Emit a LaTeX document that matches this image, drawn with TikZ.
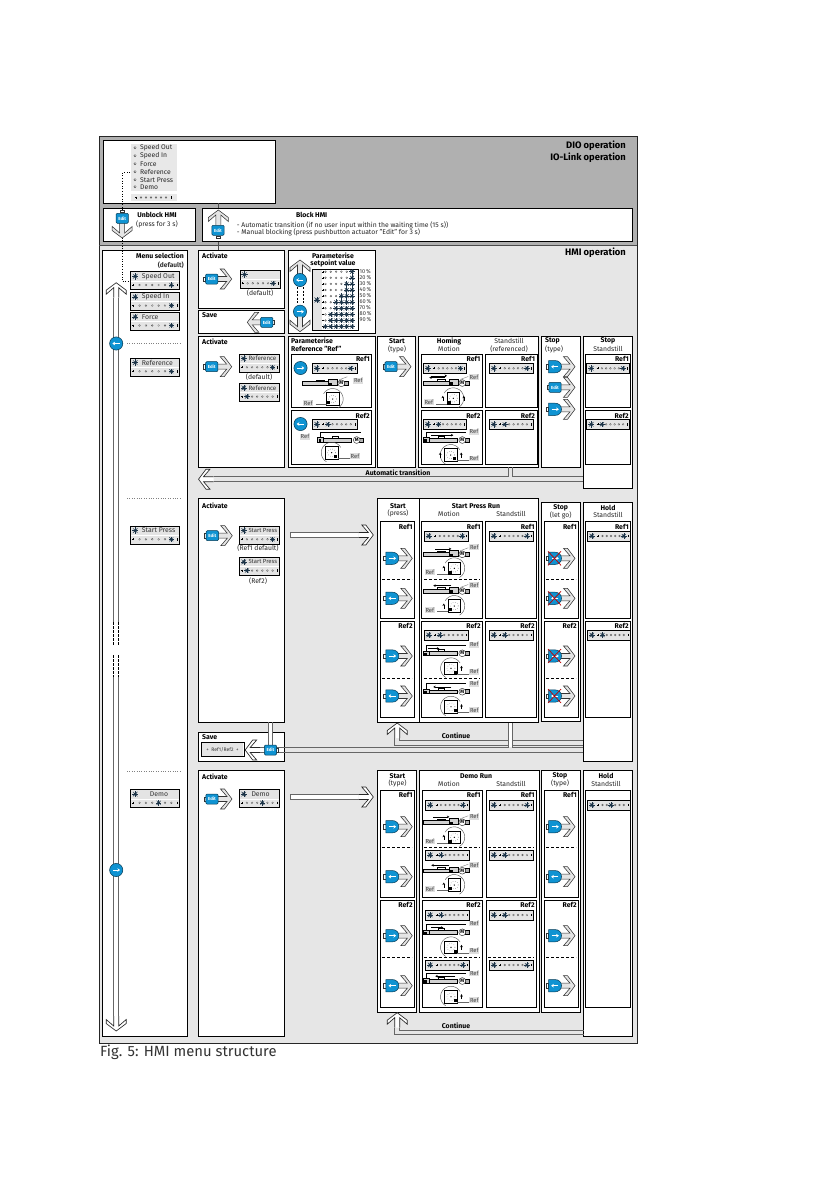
\documentclass[tikz,border=0pt]{standalone}
\usepackage{fontspec}
\setmainfont{Fira Sans}
\usetikzlibrary{arrows.meta}
\definecolor{dkbg}{HTML}{B0B0B0}
\definecolor{ltbg}{HTML}{E6E6E6}
\definecolor{dispbg}{HTML}{E4E4E4}
\definecolor{btnblue}{HTML}{0F93D2}
\definecolor{sunc}{HTML}{1C3448}
\newcounter{nc}
\tikzset{
 x=1pt,y=-1pt,
 boxs/.style={draw=black,fill=white,line width=.9pt},
 tb/.style={inner sep=0pt,font=\fontsize{6.9}{7}\selectfont\bfseries},
 tr/.style={inner sep=0pt,font=\fontsize{6.8}{7}\selectfont,text=black!85},
 tbl/.style={tb,anchor=west},
 tbr/.style={tb,anchor=east},
 trl/.style={tr,anchor=west},
 bighead/.style={inner sep=0pt,anchor=east,font=\fontsize{9.4}{10}\selectfont\bfseries},
 figcap/.style={inner sep=0pt,anchor=west,text=black!80,font=\fontsize{14.8}{16}\selectfont},
 reft/.style={inner sep=.6pt,fill=black!13,text=black!75,font=\fontsize{5.8}{6}\selectfont},
 disptx/.style={inner sep=0pt,anchor=west,text=black!80,font=\fontsize{6.9}{7}\selectfont},
 chevg/.style={draw=black!80,fill=black!10,line width=.55pt},
 chevw/.style={draw=black!85,fill=white,line width=.65pt},
 btnfill/.style={fill=btnblue,draw=black!60!btnblue,line width=.5pt},
 shaft/.style={draw=black!60,line width=.9pt},
 dashtwo/.style={draw=black,line width=.8pt,dash pattern=on 3pt off 2pt},
}
\newcommand\tx[4]{\stepcounter{nc}\node[#1] (t\thenc) at (#2,#3) {#4};}
\newcommand\bx[4]{\draw[boxs] (#1,#2) rectangle (#3,#4);}
\newcommand\reft[2]{\tx{reft}{#1}{#2}{Ref}}
\newcommand\sunn[3]{\foreach \a in {0,45,...,315}{\draw[sunc,line width=.45pt] (#1,#2) -- ++(\a:#3);}\fill[sunc] (#1,#2) circle ({.55*#3});}
\newcommand\drow[4]{%
 \draw[black,line width=.35pt] (#1-1,#3) -- (#1+1,#3) (#1,#3-1) -- (#1,#3+1);
 \draw[black,line width=.45pt] (#2,#3-1.2) -- (#2,#3+1.2);
 \foreach \k in {1,...,6}{\pgfmathsetmacro\xx{(#1)+((#2)-(#1))*\k/7}
  \ifnum\k=#4\relax\sunn{\xx}{#3}{2.8}\else\draw[black!70,line width=.3pt,fill=white] (\xx,#3) circle (.9);\fi}}
\newcommand\dispone[4]{\draw[draw=black,fill=dispbg,line width=.8pt] (#1,#2) rectangle (#3,#2+10);
 \sunn{#1+4.5}{#2+5}{3.2}\drow{#1+11}{#3-2}{#2+5}{#4}}
\newcommand\disptwo[5]{\draw[draw=black,fill=dispbg,line width=.8pt] (#1,#2) rectangle (#3,#2+18);
 \fill[white] (#1+.5,#2+9) rectangle (#3-.5,#2+9.6);
 \sunn{#1+4.5}{#2+4.6}{3.2}\drow{#1+2.5}{#3-2}{#2+13.3}{#5}
 \tx{disptx}{#1+9}{#2+4.6}{#4}}
\newcommand\chev[4][chevg]{\begin{scope}[shift={(#2,#3)},rotate=#4]
 \path[#1,draw=none] (0,0)--(-7.5,-10)--(-11.5,-10)--(-5,-2.5)--(-15,-2.5)--(-15,2.5)--(-5,2.5)--(-11.5,10)--(-7.5,10)--cycle;
 \draw[#1,fill=none,line join=miter] (-15,-2.5)--(-5,-2.5)--(-11.5,-10)--(-7.5,-10)--(0,0)--(-7.5,10)--(-11.5,10)--(-5,2.5)--(-15,2.5);\end{scope}}
\newcommand\btnE[3]{\begin{scope}[shift={(#1,#2)},rotate=#3]
 \draw[draw=black!80,fill=white,line width=.5pt] (-8,-2.2) rectangle (-6,2.2);\end{scope}
 \draw[btnfill,rounded corners=1.2pt] (#1-6.2,#2-5) rectangle (#1+6.2,#2+5);
 \tx{inner sep=0pt,text=white,font=\fontsize{4.4}{5}\selectfont\bfseries}{#1}{#2}{Edit}}
\newcommand\btnA[3]{\draw[draw=black!80,fill=white,line width=.5pt] (#1-8.6,#2-2.2) rectangle (#1-6.5,#2+2.2);
 \draw[btnfill] (#1-6.5,#2-6.2) -- (#1-.5,#2-6.2) .. controls (#1+4,#2-6.2) and (#1+6.5,#2-3.5) .. (#1+6.5,#2) .. controls (#1+6.5,#2+3.5) and (#1+4,#2+6.2) .. (#1-.5,#2+6.2) -- (#1-6.5,#2+6.2) -- cycle;
 \draw[white,line width=.9pt,-{Stealth[length=2.6pt,width=3.6pt]}] (#1-3.4*#3,#2) -- (#1+3.8*#3,#2);}
\newcommand\btnC[3]{\draw[btnfill] (#1,#2) circle (6.6);
 \draw[white,line width=.9pt,-{Stealth[length=2.6pt,width=3.6pt]}] (#1-3.4*#3,#2) -- (#1+3.8*#3,#2);}
\newcommand\redx[2]{\draw[red!75!black,line width=.7pt] (#1-7,#2-7) -- (#1+6,#2+7) (#1-7,#2+7) -- (#1+6,#2-7);}
\newcommand\actA[3]{\chev{#1+20}{#2}{0}\btnA{#1}{#2}{#3}}
\newcommand\actE[2]{\chev{#1+20}{#2}{0}\btnE{#1}{#2}{0}}
\newcommand\motorpart[2]{\draw[fill=black!30,draw=black,line width=.5pt] (#1+42,#2-2) rectangle (#1+46,#2+2);
 \draw[fill=white,draw=black!80,line width=.45pt] (#1+39,#2) circle (3.4);
 \tx{inner sep=0pt,font=\fontsize{4.8}{5}\selectfont\bfseries}{#1+39}{#2}{M}}
\newcommand\axOne[4]{\draw[fill=black!18,draw=black,line width=.6pt] (#1,#2-1.8) rectangle (#1+32,#2+1.8);
 \draw[fill=black!18,draw=black,line width=.6pt] (#1+26,#2-3.6) rectangle (#1+35,#2+1.8);
 \fill[black] (#1+27,#2-.6) rectangle (#1+29.4,#2+1.5);
 \motorpart{#1}{#2}
 \draw[black,line width=.5pt] (#1+14,#2-1.8) -- (#1+14,#2-3.4) -- (#1+22,#2-3.4) -- (#1+22,#2-1.8);
 \ifnum#3=#4\relax\else\draw[black,line width=.45pt,-{Stealth[length=2.4pt,width=2.6pt]}] (#1+#3,#2-5.4) -- (#1+#4,#2-5.4);\fi
 \draw[black!50,line width=.4pt] (#1+37,#2-3.6) -- (#1+45,#2-6.5);}
\newcommand\axTwo[4]{\draw[fill=black!18,draw=black,line width=.6pt] (#1,#2-1.8) rectangle (#1+34,#2+1.8);
 \draw[fill=black!18,draw=black,line width=.6pt] (#1,#2-2.4) rectangle (#1+6,#2+2);
 \fill[black] (#1+1,#2-.6) rectangle (#1+3.4,#2+1.5);
 \motorpart{#1}{#2}
 \draw[black,line width=.5pt] (#1+3,#2-2.4) -- (#1+3,#2-8) -- (#1+43,#2-8);
 \draw[black,line width=.5pt] (#1+15,#2-1.8) -- (#1+15,#2-3.8) -- (#1+21,#2-3.8) -- (#1+21,#2-1.8);
 \ifnum#3=#4\relax\else\draw[black,line width=.45pt,-{Stealth[length=2.4pt,width=2.6pt]}] (#1+#3,#2-4.8) -- (#1+#4,#2-4.8);\fi}
\newcommand\rotbody[3]{\draw[fill=white,draw=black,line width=.7pt] (#1-6.2,#2-6.2) rectangle (#1+6.2,#2+6.2);
 \draw[black!80,line width=.4pt,dotted] (#1,#2) circle (4);
 \fill[black] (#1+#3*2.6,#2+2.4) rectangle (#1+#3*5.6,#2+5.4);
 \fill[black] (#1,#2) circle (.7);}
\newcommand\rotarc[4]{\draw[black!65,line width=.45pt] plot[domain=#3:#4,samples=14,smooth] ({#1+10.5*cos(\x)},{#2+10.5*sin(\x)});}
\newcommand\smallup[2]{\draw[black,line width=.6pt,-{Stealth[length=2.4pt,width=2.6pt]}] (#1,#2+2.5) -- (#1,#2-2.5);}
\newcommand\rotOne[3]{\rotarc{#1}{#2}{-150}{60}\rotbody{#1}{#2}{-1}
 \draw[black!60,line width=.4pt] (#1-17,#2+5.5) -- (#1-6,#2+5.5);\reft{#1-24.5}{#2+4}
 \ifnum#3>0 \smallup{#1-10.5}{#2}\fi\ifnum#3>1 \smallup{#1+10.5}{#2}\fi}
\newcommand\rotTwo[3]{\rotarc{#1}{#2}{120}{330}\rotbody{#1}{#2}{1}
 \draw[black!60,line width=.4pt] (#1+6,#2+5.5) -- (#1+18,#2+5.5);\reft{#1+23.3}{#2+3.5}
 \ifnum#3>0 \smallup{#1+10.5}{#2}\fi\ifnum#3>1 \smallup{#1-10.5}{#2}\fi}
\begin{document}
\begin{tikzpicture}
\useasboundingbox (0,0) rectangle (839,1191);
\fill[white] (0,0) rectangle (839,1191);
\fill[dkbg] (99.3,136.7) rectangle (637.3,245);
\fill[ltbg] (99.3,245) rectangle (637.3,1043);
\draw[black!85,line width=.7pt] (99.3,136.7) rectangle (637.3,1043);
\draw[black!70,line width=.6pt] (99.3,245) -- (637.3,245);
\tx{bighead}{626}{145.3}{DIO operation}
\tx{bighead}{626}{157.3}{IO-Link operation}
\tx{bighead}{626}{252.5}{HMI operation}
\bx{103}{140}{275.7}{203}
\bx{103}{208}{195.7}{241.7}
\bx{202.3}{208}{632.3}{241.7}
\fill[black!9] (131,144) rectangle (176.7,191);
\fill[black!9] (131,194.3) rectangle (176.7,200.7);
\foreach \yy/\ttt in {147.7/Speed Out,155.7/Speed In,163.7/Force,171.7/Reference,179.7/Start Press,186.7/Demo}{
 \draw[black!80,line width=.35pt,fill=white] (135,\yy) circle (1.2);
 \tx{trl}{140}{\yy}{\ttt}}
\drow{136}{171}{197.5}{9}
\tx{tb}{157}{215}{Unblock HMI}
\tx{tr}{157}{224.3}{(press for 3 s)}
\tx{tb}{311.7}{215}{Block HMI}
\tx{trl}{236.7}{225}{- Automatic transition (if no user input within the waiting time (15 s))}
\tx{trl}{236.7}{232.7}{- Manual blocking (press pushbutton actuator "Edit" for 3 s)}
\bx{102.3}{250}{187.7}{1036}
\bx{198.3}{250}{284.3}{308.3}
\bx{198.3}{310}{284.3}{333.3}
\bx{198.3}{336}{284.3}{467.3}
\bx{288.3}{250}{375.7}{333.3}
\bx{288.3}{336}{375.7}{467.3}
\bx{291.7}{354}{371.7}{407.7}
\bx{291.7}{410.3}{371.7}{464.3}
\bx{377.7}{336}{415.7}{467.3}
\bx{418.3}{336}{538.3}{467.3}
\bx{421}{354}{482.3}{407.7}
\bx{485}{354}{537}{407.7}
\bx{421}{410.3}{482.3}{464.3}
\bx{485}{410.3}{537}{464.3}
\bx{541}{336}{580.3}{467.3}
\draw[shaft] (508,467.3) -- (508,476.7) -- (213.5,476.7) (213.5,481.7) -- (583,481.7);
\draw[shaft] (512.7,467.3) -- (512.7,476.7) -- (583,476.7);
\chev[chevw]{198.5}{479.2}{180}
\bx{583.3}{336}{632.3}{488.3}
\bx{585.3}{354}{630.7}{407.7}
\bx{585.3}{410.3}{630.7}{464.3}
\tx{tb}{398}{473}{Automatic transition}
\bx{198.3}{498.3}{284.3}{722.3}
\bx{198.3}{732.3}{284.3}{761}
\bx{198.3}{770.7}{284.3}{1036}
\draw[shaft] (394.7,738) -- (394.7,745) -- (508.3,745) (399.7,738) -- (399.7,740.7) -- (508.3,740.7) (512.3,740.7) -- (583.7,740.7) (512.3,745) -- (583.7,745);
\draw[white,line width=3pt] (510.3,723) -- (510.3,747);
\draw[shaft] (508.3,722) -- (508.3,747.5) (512.3,722) -- (512.3,747.5);
\draw[shaft] (260.2,747.5) -- (508.3,747.5) (512.3,747.5) -- (583.7,747.5);
\draw[shaft] (260.2,752.5) -- (583.7,752.5);
\bx{377.7}{498.3}{538.7}{722.7}
\draw[black,line width=1.1pt] (419.3,498.3) -- (419.3,722.7);
\bx{541.3}{502.3}{580.7}{721.7}
\bx{583.7}{502.3}{632.7}{761.7}
\foreach \xa/\xb in {380.3/414.3,421.7/482.7,485.7/536.3,544/578.7,585.7/630.7}{
 \bx{\xa}{521.7}{\xb}{618.3}
 \bx{\xa}{621}{\xb}{717.3}}
\bx{377.7}{770}{416.7}{1012.3}
\bx{419.3}{770}{539.7}{1012.3}
\bx{541.3}{770}{580.7}{1012.3}
\bx{583.7}{770}{632.7}{1036.7}
\foreach \xa/\xb in {380.3/414.3,422.3/482.7,486/536.3,544/578.7}{
 \bx{\xa}{790}{\xb}{897.3}
 \bx{\xa}{900}{\xb}{1007.3}}
\bx{585.7}{790}{630.7}{1007.3}
\draw[shaft] (394.7,1027.7) -- (394.7,1034.3) -- (583.7,1034.3) (399.7,1027.7) -- (399.7,1030) -- (583.7,1030);
\chev[chevw]{397.2}{1012.7}{90}
\chev[chevw]{397.2}{723}{90}
\tx{tb}{456}{736}{Continue}
\tx{tb}{456}{1025.7}{Continue}
\foreach \xa/\xb/\yy in {382/412/579.3,424/480/579.3,546/576/579.3,382/412/678.3,424/480/678.3,546/576/678.3,
 382/412/847.3,424/480/847.3,488/534/847.3,546/576/847.3,382/412/957.3,424/480/957.3,488/534/957.3,546/576/957.3}{
 \draw[dashtwo] (\xa,\yy) -- (\xb,\yy);}
\tx{tbr}{184}{256}{Menu selection}
\tx{inner sep=0pt,anchor=east,font=\fontsize{6.6}{7}\selectfont\bfseries,text=black!80}{184}{265}{(default)}
\foreach \xx/\yy in {202/256,202/341.3,202/505.7,202/776.5}{\tx{tbl}{\xx}{\yy}{Activate}}
\tx{tbl}{202}{315.5}{Save}
\tx{tbl}{202}{737.5}{Save}
\tx{tb}{333}{256}{Parameterise}
\tx{tb}{333}{263.5}{setpoint value}
\tx{tbl}{291}{341}{Parameterise}
\tx{tbl}{291}{348.5}{Reference "Ref"}
\tx{tb}{397}{341}{Start}\tx{tr}{397}{349}{(type)}
\tx{tb}{449}{341}{Homing}\tx{tr}{449}{349}{Motion}
\tx{tr}{509}{341}{Standstill}\tx{tr}{509}{349}{(referenced)}
\tx{tbl}{545}{341}{Stop}\tx{trl}{545}{349}{(type)}
\tx{tb}{608}{341}{Stop}\tx{tr}{608}{349}{Standstill}
\tx{tb}{398}{506}{Start}\tx{tr}{398}{513.7}{(press)}
\tx{tb}{476}{505.7}{Start Press Run}\tx{tr}{449}{513.7}{Motion}\tx{tr}{511}{513.7}{Standstill}
\tx{tb}{560.7}{507.7}{Stop}\tx{tr}{560.7}{515}{(let go)}
\tx{tb}{608}{507.7}{Hold}\tx{tr}{608}{515}{Standstill}
\tx{tb}{397.5}{776}{Start}\tx{tr}{397.5}{783.7}{(type)}
\tx{tb}{476}{776}{Demo Run}\tx{tr}{449}{783.7}{Motion}\tx{tr}{511}{783.7}{Standstill}
\tx{tb}{560}{776}{Stop}\tx{tr}{560}{783.7}{(type)}
\tx{tb}{606}{776}{Hold}\tx{tr}{606}{783.7}{Standstill}
\foreach \xx/\yy/\ttt in {370/359/Ref1,370/415.5/Ref2,480.6/359/Ref1,535.2/359/Ref1,480.6/415.5/Ref2,535.2/415.5/Ref2,629/359/Ref1,629/415.5/Ref2,
 412.8/526.5/Ref1,480.8/526.5/Ref1,534.8/526.5/Ref1,577/526.5/Ref1,629/526.5/Ref1,
 412.8/625.8/Ref2,480.8/625.8/Ref2,534.8/625.8/Ref2,577/625.8/Ref2,629/625.8/Ref2,
 412.8/794.8/Ref1,480.8/794.8/Ref1,534.8/794.8/Ref1,577/794.8/Ref1,
 412.8/904.5/Ref2,480.8/904.5/Ref2,534.8/904.5/Ref2,577/904.5/Ref2}{\tx{tbr}{\xx}{\yy}{\ttt}}
\draw[shaft] (113.7,297.7) -- (113.7,622) (118.7,297.7) -- (118.7,622) (113.7,677) -- (113.7,1016) (118.7,677) -- (118.7,1016);
\draw[black,line width=.6pt,dash pattern=on 2.5pt off 1.5pt] (113.7,622) -- (113.7,645) (118.7,622) -- (118.7,645) (113.7,655) -- (113.7,677) (118.7,655) -- (118.7,677);
\chev[chevw]{116.2}{282.7}{90}
\chev[chevw]{116.2}{1031}{-90}
\btnC{116.2}{343.5}{-1}
\btnC{116.2}{870}{1}
\foreach \yy in {343,498.3,770.7}{\draw[black!50,line width=.4pt,dotted] (127,\yy) -- (181,\yy);}
\disptwo{130.7}{271.7}{179.7}{\hspace{2pt}Speed Out}{6}
\disptwo{130.7}{292.3}{179.7}{\hspace{2pt}Speed In}{6}
\disptwo{130.7}{312.2}{179.7}{\hspace{2pt}Force}{6}
\disptwo{130.7}{358}{179.7}{\hspace{2pt}Reference}{6}
\disptwo{130.7}{526}{179.7}{\hspace{2pt}Start Press}{6}
\disptwo{130.7}{789.5}{179.7}{\hspace{10pt}Demo}{4}
\draw[black,line width=.6pt,dotted] (130,172.7) -- (122.3,172.7) -- (122.3,281.7) -- (131,281.7);
\draw[black!70,line width=.6pt] (218.7,203) -- (218.7,208) (218.7,241.7) -- (218.7,250);
\chev{122.2}{238}{-90}
\btnE{122.2}{218.3}{-90}
\chev{218.3}{210}{90}
\btnE{218}{230.3}{90}
\actE{211.7}{279}
\disptwo{240}{270}{280.3}{}{6}
\tx{tr}{260}{292.7}{(default)}
\chev{247.3}{322.3}{180}
\btnE{266.7}{322.3}{180}
\actE{211.7}{366.7}
\disptwo{239.3}{354}{279.7}{\fontsize{6.2}{7}\selectfont Reference}{6}
\tx{tr}{259}{376.7}{(default)}
\disptwo{239.3}{383.3}{279.7}{\fontsize{6.2}{7}\selectfont Reference}{1}
\actE{212.3}{535.7}
\disptwo{239.3}{526}{279.7}{\fontsize{5.9}{7}\selectfont Start Press}{6}
\tx{tr}{258}{548.3}{(Ref1 default)}
\disptwo{239.3}{557.3}{279.7}{\fontsize{5.9}{7}\selectfont Start Press}{1}
\tx{tr}{258}{580.7}{(Ref2)}
\actE{212}{799}
\disptwo{239.3}{789.5}{279.7}{\hspace{3pt}Demo}{4}
\draw[shaft,fill=white] (358.3,532.5) -- (290,532.5) -- (290,537.5) -- (358.3,537.5);
\chev[chevw]{373.3}{535}{0}
\draw[shaft,fill=white] (358.3,794.5) -- (290,794.5) -- (290,799.5) -- (358.3,799.5);
\chev[chevw]{373.3}{797}{0}
\draw[draw=black,fill=white,line width=.8pt] (201,742.3) rectangle (244.3,756.7);
\fill[black!10] (202,743.3) rectangle (243.3,755.7);
\tx{inner sep=0pt,text=black!80,font=\fontsize{5}{6}\selectfont}{222.5}{749.5}{+ \ Ref1/Ref2 \ +}
\chev[chevw]{245.2}{750}{180}
\draw[white,line width=3pt] (270.5,723) -- (270.5,746);
\draw[shaft] (268.3,722.3) -- (268.3,746) (272.7,722.3) -- (272.7,746);
\btnE{270.5}{750}{180}
\chev{300}{260}{90}
\btnC{300}{280}{-1}
\draw[black,line width=.7pt,dash pattern=on 2pt off 1.5pt] (297,287) -- (297,304) (303,287) -- (303,304);
\btnC{300}{311.7}{1}
\chev{300}{331.7}{-90}
\draw[draw=black,fill=white,line width=.8pt] (312.3,269.3) rectangle (358.3,330.7);
\fill[dispbg] (313,270) rectangle (322,330);
\sunn{317}{300}{3.4}
\foreach \r/\n [evaluate=\r as \yy using 271.7+(\r-1)*6.1] in {1/1,2/1,3/2,4/2,5/3,6/4,7/4,8/5,9/5,10/6}{
 \draw[black,line width=.35pt] (323,\yy-.9) -- (323,\yy+.9) (322.1,\yy) -- (323.9,\yy);
 \foreach \j in {1,...,6}{\pgfmathsetmacro\xs{352-5.3*(\j-1)}
  \ifnum\j>\n\relax\draw[black!70,line width=.3pt,fill=white] (\xs,\yy) circle (.9);\else\sunn{\xs}{\yy}{2.8}\fi}}
\foreach \p/\yy in {10/271.7,20/277.7,30/283.7,40/289.7,50/295.7,60/301.7,70/307.7,80/313.7,90/319.7}{\tx{inner sep=0pt,anchor=west,text=black!80,font=\fontsize{5.6}{6}\selectfont}{359.5}{\yy}{\p\,\%}}
\btnC{300.5}{368}{1}
\dispone{312.3}{363.3}{357.3}{6}
\axOne{302.3}{383.3}{0}{0}
\reft{358.3}{380.7}
\rotOne{332.7}{399}{0}
\btnC{300.5}{424}{-1}
\dispone{312.3}{419.3}{357.3}{1}
\axTwo{317.7}{440}{0}{0}
\reft{305}{436.7}
\rotTwo{331.7}{452.7}{0}
\actE{391}{366.7}
\actA{555}{366.7}{-1}
\actE{555}{387.3}
\actA{555}{409.3}{1}
\dispone{423.3}{363.3}{466.7}{6}
\axOne{423.3}{383}{22}{6}
\draw[black,line width=.45pt,-{Stealth[length=2.4pt,width=2.6pt]}] (431,375.8) -- (447,375.8);
\reft{474}{377.3}
\rotOne{453.3}{398.3}{2}
\dispone{489.3}{363.3}{533.3}{6}
\dispone{423.3}{419.3}{466.7}{1}
\axTwo{423.3}{440}{8}{30}
\reft{474}{431.7}
\rotTwo{450.7}{455}{2}
\dispone{489.3}{419.3}{533.3}{1}
\dispone{586.7}{363.3}{629.3}{6}
\dispone{586.7}{419.3}{629.3}{1}
\dispone{424.3}{531}{468.7}{6}
\axOne{423.3}{554.3}{12}{28}
\reft{474.3}{547.3}
\rotOne{454.3}{568.3}{1}
\axOne{423.3}{591}{28}{10}
\reft{474.3}{585.3}
\rotOne{454.3}{606}{1}
\dispone{489.3}{531}{533.3}{6}
\dispone{587.3}{531}{630}{6}
\dispone{424.3}{630}{468.7}{1}
\axTwo{423.3}{653.3}{5}{16}
\reft{474.3}{644.7}
\rotTwo{451}{668.3}{1}
\axTwo{423.3}{691.7}{28}{10}
\reft{474.3}{683.7}
\rotTwo{451}{706.7}{1}
\dispone{489.3}{630}{533.3}{1}
\dispone{587.3}{630}{630}{1}
\foreach \yy/\d in {558.3/1,598.3/-1,656/1,696/-1}{
 \actA{392.3}{\yy}{\d}
 \actA{555}{\yy}{\d}
 \redx{555}{\yy}}
\dispone{425.7}{800}{469.3}{6}
\axOne{423.3}{822.3}{10}{26}
\reft{474.3}{816.7}
\rotOne{454.3}{837.3}{1}
\dispone{489.3}{800}{533.3}{6}
\dispone{425.7}{850}{469.3}{1}
\axOne{423.3}{870.7}{26}{8}
\reft{474.3}{865}
\rotOne{454.3}{885}{1}
\dispone{489.3}{850}{533.3}{1}
\dispone{587.3}{800}{630}{3}
\dispone{425.7}{910}{469.3}{1}
\axTwo{423.3}{932.3}{8}{20}
\reft{474.3}{923.3}
\rotTwo{451}{947.3}{1}
\dispone{489.3}{910}{533.3}{1}
\dispone{425.7}{960}{469.3}{6}
\axTwo{423.3}{981}{32}{12}
\reft{474.3}{973.3}
\rotTwo{451}{996.7}{1}
\dispone{489.3}{960}{533.3}{6}
\foreach \yy/\d in {826.7/1,876.7/-1,935.7/1,985.7/-1}{
 \actA{392.3}{\yy}{\d}
 \actA{555}{\yy}{\d}}
\tx{figcap}{100}{1052.5}{Fig. 5: HMI menu structure}
\end{tikzpicture}
\end{document}
